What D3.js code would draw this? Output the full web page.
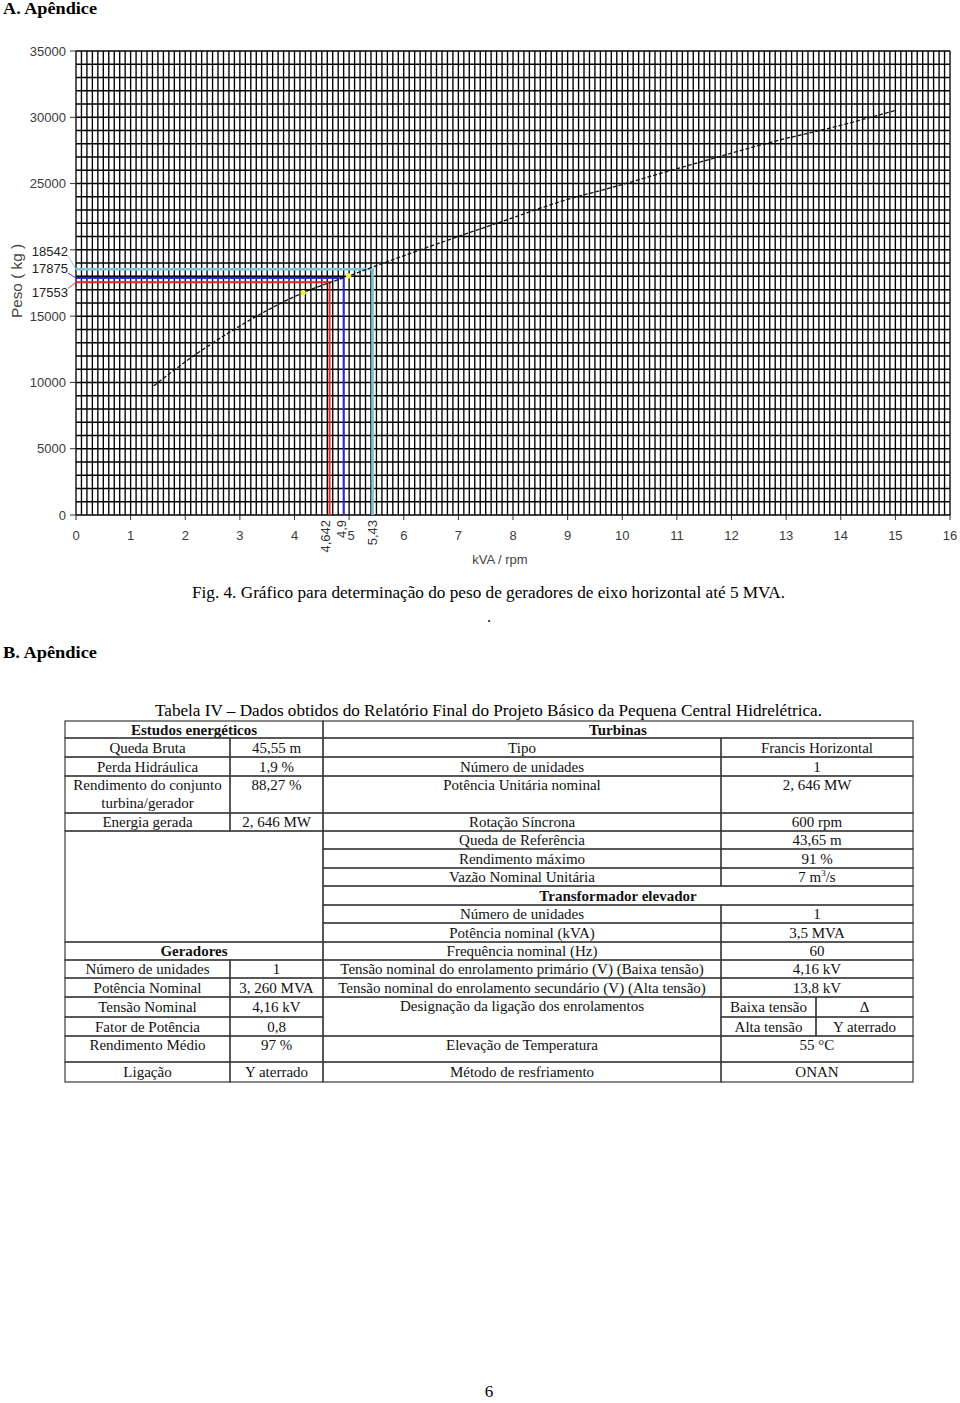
<!DOCTYPE html>
<html><head><meta charset="utf-8">
<script src="https://cdn.jsdelivr.net/npm/d3@7"></script>
<style>
html,body{margin:0;padding:0;background:#fff;}
svg{display:block;}
</style></head><body>
<svg id="page" width="960" height="1403"></svg>
<script>
// ---------- chart data ----------
const curveX = [1.42, 2.09, 2.88, 4.16, 4.99, 6.24, 7.70, 9.17, 9.59, 10.87, 11.73, 12.76, 13.86, 14.99];
const curveY = [9730, 11820, 13960, 16770, 18030, 19910, 22000, 24010, 24460, 25970, 26980, 28160, 29250, 30500];
const markerX = [4.16, 4.99];
const markerY = [16770, 18030];
const refX = [4.642, 4.9, 5.43];
const refY = [17553, 17875, 18542];
const refXLabels = ["4,642", "4,9", "5,43"];
const refYLabels = ["17553", "17875", "18542"];
const refColors = ["#e0262c", "#2a2ad2", "#78c6da"];
const xTicks = [0,1,2,3,4,5,6,7,8,9,10,11,12,13,14,15,16];
const xTickLabels = ["0","1","2","3","4","5","6","7","8","9","10","11","12","13","14","15","16"];
const yTickMarks = [0,5000,10000,15000,20000,25000,30000,35000];
const yTickValues = [0,5000,10000,15000,25000,30000,35000];
const yTickLabels = ["0","5000","10000","15000","25000","30000","35000"];

// ---------- table data ----------
const colEdges = [65, 230, 323, 721, 816, 913];
const rowEdges = [721, 738, 757, 776, 813, 831, 849, 868, 886, 905, 923, 942, 960, 978, 997, 1017, 1036, 1062, 1082];
// [c0, c1, r0, r1, text, bold, valignTop]
const tableCells = [
  [0,2,0,1,"Estudos energéticos",true,false],
  [0,1,1,2,"Queda Bruta"],[1,2,1,2,"45,55 m"],
  [0,1,2,3,"Perda Hidráulica"],[1,2,2,3,"1,9 %"],
  [0,1,3,4,"Rendimento do conjunto|turbina/gerador",false,true],[1,2,3,4,"88,27 %",false,true],
  [0,1,4,5,"Energia gerada"],[1,2,4,5,"2, 646 MW"],
  [0,2,5,11,""],
  [0,2,11,12,"Geradores",true,false],
  [0,1,12,13,"Número de unidades"],[1,2,12,13,"1"],
  [0,1,13,14,"Potência Nominal"],[1,2,13,14,"3, 260 MVA"],
  [0,1,14,15,"Tensão Nominal"],[1,2,14,15,"4,16 kV"],
  [0,1,15,16,"Fator de Potência"],[1,2,15,16,"0,8"],
  [0,1,16,17,"Rendimento Médio",false,true],[1,2,16,17,"97 %",false,true],
  [0,1,17,18,"Ligação"],[1,2,17,18,"Y  aterrado"],
  [2,5,0,1,"Turbinas",true,false],
  [2,3,1,2,"Tipo"],[3,5,1,2,"Francis Horizontal"],
  [2,3,2,3,"Número de unidades"],[3,5,2,3,"1"],
  [2,3,3,4,"Potência Unitária nominal",false,true],[3,5,3,4,"2, 646 MW",false,true],
  [2,3,4,5,"Rotação Síncrona"],[3,5,4,5,"600 rpm"],
  [2,3,5,6,"Queda de Referência"],[3,5,5,6,"43,65 m"],
  [2,3,6,7,"Rendimento máximo"],[3,5,6,7,"91 %"],
  [2,3,7,8,"Vazão Nominal Unitária"],[3,5,7,8,"7 m^3/s"],
  [2,5,8,9,"Transformador elevador",true,false],
  [2,3,9,10,"Número de unidades"],[3,5,9,10,"1"],
  [2,3,10,11,"Potência nominal (kVA)"],[3,5,10,11,"3,5 MVA"],
  [2,3,11,12,"Frequência nominal (Hz)"],[3,5,11,12,"60"],
  [2,3,12,13,"Tensão nominal do enrolamento primário (V) (Baixa tensão)"],[3,5,12,13,"4,16 kV"],
  [2,3,13,14,"Tensão nominal do enrolamento secundário (V) (Alta tensão)"],[3,5,13,14,"13,8 kV"],
  [2,3,14,16,"Designação da ligação dos enrolamentos",false,true],
  [3,4,14,15,"Baixa tensão"],[4,5,14,15,"Δ"],
  [3,4,15,16,"Alta tensão"],[4,5,15,16,"Y aterrado"],
  [2,3,16,17,"Elevação de Temperatura",false,true],[3,5,16,17,"55 °C",false,true],
  [2,3,17,18,"Método de resfriamento"],[3,5,17,18,"ONAN"]
];

const svg = d3.select("#page");
const serif = "'Liberation Serif','Times New Roman',serif";
const sans = "'Liberation Sans',Arial,sans-serif";

// ---------- headings ----------
svg.append("text").attr("x",3).attr("y",14).attr("font-family",serif).attr("font-weight","bold")
  .attr("font-size",17).attr("textLength",94).attr("lengthAdjust","spacingAndGlyphs").text("A. Apêndice");
svg.append("text").attr("x",3).attr("y",658).attr("font-family",serif).attr("font-weight","bold")
  .attr("font-size",17).attr("textLength",94).attr("lengthAdjust","spacingAndGlyphs").text("B. Apêndice");

// ---------- chart ----------
const x = d3.scaleLinear().domain([0,16]).range([76,950]);
const y = d3.scaleLinear().domain([0,35000]).range([515,51]);

const g = svg.append("g");
// vertical minor grid every 0.1
const vLines = d3.range(0, 160.5, 1).map(d => d/10);
g.append("g").selectAll("line").data(vLines).join("line")
  .attr("x1", d=>x(d)).attr("x2", d=>x(d)).attr("y1", y(0)).attr("y2", y(35000))
  .attr("stroke", "#000").attr("stroke-width", 1.35);
// horizontal grid every 1000
const hLines = d3.range(0, 35001, 1000);
g.append("g").selectAll("line").data(hLines).join("line")
  .attr("x1", x(0)).attr("x2", x(16)).attr("y1", d=>y(d)).attr("y2", d=>y(d))
  .attr("stroke", "#000").attr("stroke-width", 1.5);

// y ticks
g.append("g").selectAll("line").data(yTickMarks).join("line")
  .attr("x1", x(0)-6).attr("x2", x(0)).attr("y1", d=>y(d)).attr("y2", d=>y(d))
  .attr("stroke","#333").attr("stroke-width",1);
g.append("g").selectAll("text").data(yTickValues).join("text")
  .attr("x", 66).attr("y", d=>y(d)+4.5).attr("text-anchor","end")
  .attr("font-family",sans).attr("font-size",13).attr("fill","#3a3a3a")
  .text((d,i)=>yTickLabels[i]);
// x ticks
g.append("g").selectAll("line").data(xTicks).join("line")
  .attr("x1", d=>x(d)).attr("x2", d=>x(d)).attr("y1", y(0)).attr("y2", y(0)+5)
  .attr("stroke","#333").attr("stroke-width",1);
g.append("g").selectAll("text").data(xTicks).join("text")
  .attr("x", d=>x(d)+ (d===5 ? 2 : 0)).attr("y", 540).attr("text-anchor","middle")
  .attr("font-family",sans).attr("font-size",13).attr("fill","#3a3a3a")
  .text((d,i)=>xTickLabels[i]);

// axis titles
g.append("text").attr("transform","translate(22,281) rotate(-90)").attr("text-anchor","middle")
  .attr("font-family",sans).attr("font-size",14).attr("fill","#444")
  .attr("textLength",74).attr("lengthAdjust","spacingAndGlyphs").text("Peso ( kg )");
g.append("text").attr("x",500).attr("y",564).attr("text-anchor","middle")
  .attr("font-family",sans).attr("font-size",13).attr("fill","#444").text("kVA / rpm");

// reference lines
refX.forEach((rx,i)=>{
  g.append("path")
    .attr("d", `M${x(0)},${y(refY[i])}H${x(rx)}V${y(0)}`)
    .attr("fill","none").attr("stroke",refColors[i]).attr("stroke-width", i===2?2.6:2);
});

// curve
const line = d3.line().x(d=>x(d[0])).y(d=>y(d[1])).curve(d3.curveMonotoneX);
g.append("path").datum(curveX.map((v,i)=>[v,curveY[i]]))
  .attr("d", line).attr("fill","none").attr("stroke","#111").attr("stroke-width",1.3)
  .attr("stroke-dasharray","4,2");

// markers
g.append("g").selectAll("circle").data(markerX).join("circle")
  .attr("cx", d=>x(d)).attr("cy",(d,i)=>y(markerY[i])).attr("r",2.6).attr("fill","#f2f23a");

// reference x labels (rotated)
const labelDx = [0.5, 2.5, 4.5];
refX.forEach((rx,i)=>{
  g.append("text").attr("transform",`translate(${x(rx)+labelDx[i]},520) rotate(-90)`)
    .attr("text-anchor","end").attr("font-family",sans).attr("font-size",13).attr("fill","#333")
    .text(refXLabels[i]);
});
// reference y labels with leaders
const labelShift = [10, -10, -18];
refY.forEach((ry,i)=>{
  const ly = y(ry) + labelShift[i];
  g.append("text").attr("x",68).attr("y",ly+4.5).attr("text-anchor","end")
    .attr("font-family",sans).attr("font-size",13).attr("fill","#222").text(refYLabels[i]);
  g.append("line").attr("x1",68).attr("y1", i===0 ? ly-4 : ly+5).attr("x2",x(0)).attr("y2",y(ry))
    .attr("stroke",refColors[i]).attr("stroke-width",0.9);
});

// ---------- captions ----------
svg.append("text").attr("x",192).attr("y",598).attr("font-family",serif).attr("font-size",16)
  .attr("textLength",593).attr("lengthAdjust","spacingAndGlyphs")
  .text("Fig. 4. Gráfico para determinação do peso de geradores de eixo horizontal até 5 MVA.");
svg.append("text").attr("x",489).attr("y",622).attr("text-anchor","middle").attr("font-family",serif).attr("font-size",16).text(".");
svg.append("text").attr("x",155).attr("y",716).attr("font-family",serif).attr("font-size",16)
  .attr("textLength",667).attr("lengthAdjust","spacingAndGlyphs")
  .text("Tabela IV – Dados obtidos do Relatório Final do Projeto Básico da Pequena Central Hidrelétrica.");
svg.append("text").attr("x",489).attr("y",1397).attr("text-anchor","middle").attr("font-family",serif).attr("font-size",17).text("6");

// ---------- table ----------
const tg = svg.append("g");
tableCells.forEach(c=>{
  const [c0,c1,r0,r1,txt,bold,top] = c;
  const x0 = colEdges[c0], x1 = colEdges[c1], y0 = rowEdges[r0], y1 = rowEdges[r1];
  tg.append("rect").attr("x",x0).attr("y",y0).attr("width",x1-x0).attr("height",y1-y0)
    .attr("fill","none").attr("stroke","#3a3a3a").attr("stroke-width",1.2);
  if(!txt) return;
  const lines = txt.split("|");
  const cx = (x0+x1)/2;
  lines.forEach((ln,k)=>{
    const by = top ? y0 + 14 + k*18 : (y0+y1)/2 + 5;
    const t = tg.append("text").attr("x",cx).attr("y",by).attr("text-anchor","middle")
      .attr("font-family",serif).attr("font-size",15).attr("fill","#111")
      .attr("font-weight", bold ? "bold" : "normal");
    if(ln.includes("^")){
      const [a,b] = ln.split("^");
      t.append("tspan").text(a);
      t.append("tspan").attr("font-size",9).attr("dy",-6).text(b[0]);
      t.append("tspan").attr("dy",6).text(b.slice(1));
    } else t.text(ln);
  });
});
</script>
</body></html>
